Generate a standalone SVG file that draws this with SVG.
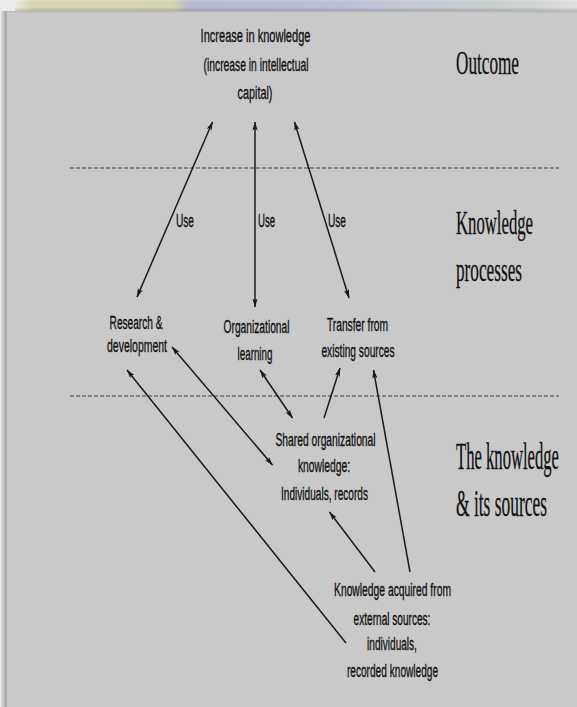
<svg xmlns="http://www.w3.org/2000/svg" width="577" height="707" viewBox="0 0 577 707">
<defs>
<linearGradient id="strip" x1="0" y1="0" x2="1" y2="0">
<stop offset="0" stop-color="#efefe6"/>
<stop offset="0.03" stop-color="#dcdcb8"/>
<stop offset="0.28" stop-color="#d8d8b4"/>
<stop offset="0.31" stop-color="#b9bcd6"/>
<stop offset="0.55" stop-color="#bcc0da"/>
<stop offset="0.68" stop-color="#c8ccd8"/>
<stop offset="0.86" stop-color="#ccd2d2"/>
<stop offset="1" stop-color="#e4e4e4"/>
</linearGradient>
<linearGradient id="stripShade" x1="0" y1="0" x2="0" y2="1">
<stop offset="0" stop-color="#ffffff" stop-opacity="0.15"/>
<stop offset="0.6" stop-color="#000000" stop-opacity="0"/>
<stop offset="1" stop-color="#000000" stop-opacity="0.18"/>
</linearGradient>
<linearGradient id="leftShadow" x1="0" y1="0" x2="1" y2="0">
<stop offset="0" stop-color="#eeeeee"/>
<stop offset="0.7" stop-color="#a8a8a8"/>
<stop offset="1" stop-color="#b8b8b8"/>
</linearGradient>
<marker id="ah" viewBox="0 0 9 6" markerWidth="9" markerHeight="6" refX="8.5" refY="3" orient="auto-start-reverse" markerUnits="userSpaceOnUse">
<path d="M0,0.4 L9,3 L0,5.6 L2,3 z" fill="#1a1a1a"/>
</marker>
<style>
.lbl{font-family:"Liberation Sans",Arial,sans-serif;font-size:19px;fill:#111;stroke:#111;stroke-width:0.35;text-anchor:middle}
.use{font-family:"Liberation Sans",Arial,sans-serif;font-size:19px;fill:#111;stroke:#111;stroke-width:0.35}
.side{font-family:"Liberation Serif","Times New Roman",serif;font-size:34px;fill:#111;stroke:#111;stroke-width:0.3}
.big{font-size:37px}
.sep{stroke:#6e6e6e;stroke-width:1.6;stroke-dasharray:4 2;fill:none}
.cn{stroke:#1a1a1a;stroke-width:1.5;fill:none}
.dbl{marker-start:url(#ah);marker-end:url(#ah)}
.sgl{marker-end:url(#ah)}
</style>
</defs>
<rect x="0" y="0" width="577" height="707" fill="#ececec"/>
<rect x="15" y="0" width="562" height="11" fill="url(#strip)"/>
<rect x="15" y="0" width="562" height="11" fill="url(#stripShade)"/>
<rect x="0" y="11" width="8" height="696" fill="url(#leftShadow)"/>
<rect x="7" y="11" width="570" height="696" fill="#c9c9c9"/>
<rect x="7" y="11" width="570" height="1.5" fill="#b0b0b0" opacity="0.6"/>

<g id="separators">
<line class="sep" x1="70" y1="168" x2="559" y2="168"/>
<line class="sep" x1="70" y1="396" x2="559" y2="396"/>
</g>

<g id="connectors">
<line class="cn dbl" x1="137" y1="297" x2="212.5" y2="122"/>
<line class="cn dbl" x1="255" y1="307" x2="255" y2="122"/>
<line class="cn dbl" x1="349" y1="298" x2="294.5" y2="122"/>
<line class="cn sgl" x1="346" y1="643" x2="127" y2="370"/>
<line class="cn dbl" x1="172" y1="347" x2="272.5" y2="465"/>
<line class="cn dbl" x1="260" y1="370" x2="292.5" y2="418"/>
<line class="cn sgl" x1="324" y1="418" x2="340" y2="368"/>
<line class="cn sgl" x1="375" y1="572" x2="329.5" y2="512"/>
<line class="cn sgl" x1="410" y1="572" x2="373.5" y2="370"/>
<text class="use" transform="translate(176,227) scale(0.6,1)" textLength="30" lengthAdjust="spacingAndGlyphs">Use</text>
<text class="use" transform="translate(258,227) scale(0.6,1)" textLength="28.5" lengthAdjust="spacingAndGlyphs">Use</text>
<text class="use" transform="translate(328,227) scale(0.6,1)" textLength="30" lengthAdjust="spacingAndGlyphs">Use</text>
</g>

<g id="outcome-node">
<text class="lbl" transform="translate(255.5,42) scale(0.6,1)" textLength="183" lengthAdjust="spacingAndGlyphs">Increase in knowledge</text>
<text class="lbl" transform="translate(256,71) scale(0.6,1)" textLength="175" lengthAdjust="spacingAndGlyphs">(increase in intellectual</text>
<text class="lbl" transform="translate(255,99) scale(0.6,1)" textLength="58" lengthAdjust="spacingAndGlyphs">capital)</text>
</g>

<g id="research-node">
<text class="lbl" transform="translate(136,329) scale(0.6,1)" textLength="88" lengthAdjust="spacingAndGlyphs">Research &amp;</text>
<text class="lbl" transform="translate(137,352) scale(0.6,1)" textLength="100" lengthAdjust="spacingAndGlyphs">development</text>
</g>

<g id="learning-node">
<text class="lbl" transform="translate(256.5,333) scale(0.6,1)" textLength="110" lengthAdjust="spacingAndGlyphs">Organizational</text>
<text class="lbl" transform="translate(255,360) scale(0.6,1)" textLength="58" lengthAdjust="spacingAndGlyphs">learning</text>
</g>

<g id="transfer-node">
<text class="lbl" transform="translate(357.5,331) scale(0.6,1)" textLength="102" lengthAdjust="spacingAndGlyphs">Transfer from</text>
<text class="lbl" transform="translate(358,357) scale(0.6,1)" textLength="122" lengthAdjust="spacingAndGlyphs">existing sources</text>
</g>

<g id="shared-node">
<text class="lbl" transform="translate(325.5,446) scale(0.6,1)" textLength="167" lengthAdjust="spacingAndGlyphs">Shared organizational</text>
<text class="lbl" transform="translate(324,472) scale(0.6,1)" textLength="87" lengthAdjust="spacingAndGlyphs">knowledge:</text>
<text class="lbl" transform="translate(324.5,500) scale(0.6,1)" textLength="145" lengthAdjust="spacingAndGlyphs">Individuals, records</text>
</g>

<g id="external-node">
<text class="lbl" transform="translate(392.5,596) scale(0.6,1)" textLength="195" lengthAdjust="spacingAndGlyphs">Knowledge acquired from</text>
<text class="lbl" transform="translate(392,625) scale(0.6,1)" textLength="128" lengthAdjust="spacingAndGlyphs">external sources:</text>
<text class="lbl" transform="translate(392,650) scale(0.6,1)" textLength="83" lengthAdjust="spacingAndGlyphs">individuals,</text>
<text class="lbl" transform="translate(392.5,677) scale(0.6,1)" textLength="152" lengthAdjust="spacingAndGlyphs">recorded knowledge</text>
</g>

<g id="level-labels">
<text class="side" transform="translate(456,74) scale(0.5,1)" textLength="126" lengthAdjust="spacingAndGlyphs">Outcome</text>
<text class="side" transform="translate(456,234) scale(0.5,1)" textLength="154" lengthAdjust="spacingAndGlyphs">Knowledge</text>
<text class="side" transform="translate(456,281) scale(0.5,1)" textLength="132" lengthAdjust="spacingAndGlyphs">processes</text>
<text class="side big" transform="translate(456,469) scale(0.5,1)" textLength="206" lengthAdjust="spacingAndGlyphs">The knowledge</text>
<text class="side big" transform="translate(456,516) scale(0.5,1)" textLength="182" lengthAdjust="spacingAndGlyphs">&amp; its sources</text>
</g>
</svg>
